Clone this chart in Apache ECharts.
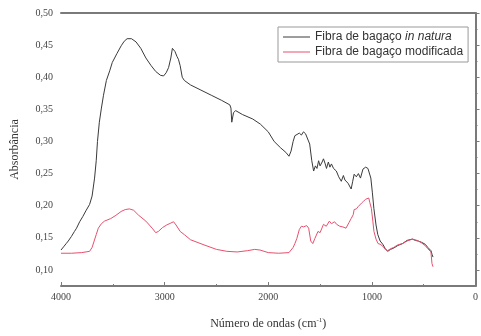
<!DOCTYPE html>
<html>
<head>
<meta charset="utf-8">
<script src="https://cdn.jsdelivr.net/npm/echarts@6/dist/echarts.min.js"></script>
<style>html,body{margin:0;padding:0;background:#fff}#c{width:481px;height:336px}</style>
</head>
<body>
<div id="c"></div>
<script>
// ---- data (wavenumber cm-1, absorbance) ----
const seriesNames = ['Fibra de bagaço in natura', 'Fibra de bagaço modificada'];
const xTickValues = [4000, 3000, 2000, 1000, 0];
const yTickValues = [0.10, 0.15, 0.20, 0.25, 0.30, 0.35, 0.40, 0.45, 0.50];

const naturaWn = [4000,3970,3950,3930,3915,3900,3886,3870,3850,3820,3790,3760,3724,3700,3676,3660,3648,3630,3610,3590,3562,3530,3505,3460,3419,3390,3362,3320,3276,3230,3181,3130,3086,3040,3010,2985,2962,2940,2925,2914,2900,2880,2867,2850,2830,2810,2750,2650,2550,2450,2371,2360,2352,2345,2335,2314,2250,2150,2076,2000,1943,1880,1830,1800,1780,1760,1743,1724,1700,1680,1660,1640,1629,1600,1580,1562,1545,1530,1514,1500,1480,1467,1450,1438,1420,1405,1390,1370,1343,1320,1295,1275,1260,1248,1230,1215,1200,1185,1171,1150,1130,1110,1086,1060,1038,1020,1010,995,981,960,943,920,895,870,848,820,790,750,705,660,610,580,552,520,486,460,430,419,410];
const naturaAbs = [0.131,0.137,0.141,0.145,0.142,0.152,0.155,0.160,0.165,0.175,0.183,0.192,0.202,0.215,0.243,0.270,0.300,0.330,0.352,0.372,0.395,0.410,0.423,0.437,0.449,0.456,0.460,0.460,0.455,0.445,0.430,0.418,0.409,0.403,0.402,0.407,0.415,0.430,0.445,0.447,0.440,0.432,0.428,0.418,0.400,0.395,0.388,0.380,0.372,0.364,0.357,0.352,0.330,0.327,0.345,0.348,0.342,0.335,0.327,0.315,0.300,0.290,0.283,0.277,0.285,0.300,0.309,0.312,0.313,0.310,0.315,0.312,0.312,0.296,0.270,0.254,0.262,0.258,0.270,0.262,0.268,0.273,0.265,0.258,0.268,0.260,0.265,0.258,0.254,0.245,0.238,0.247,0.240,0.243,0.235,0.232,0.226,0.238,0.249,0.245,0.250,0.243,0.257,0.260,0.258,0.255,0.243,0.220,0.196,0.170,0.155,0.145,0.140,0.133,0.129,0.132,0.134,0.138,0.141,0.146,0.148,0.146,0.145,0.143,0.140,0.135,0.130,0.124,0.120];

const modWn = [4000,3900,3800,3724,3700,3660,3640,3610,3580,3520,3470,3420,3380,3340,3300,3250,3181,3120,3086,3060,3020,2980,2940,2914,2890,2850,2810,2750,2620,2500,2400,2300,2200,2130,2080,2000,1900,1800,1760,1743,1724,1700,1680,1660,1629,1610,1590,1570,1550,1520,1500,1467,1440,1410,1390,1360,1340,1310,1280,1250,1220,1200,1180,1171,1150,1130,1100,1080,1060,1050,1030,1020,1005,990,980,960,940,920,895,870,848,820,790,750,705,660,610,580,552,520,486,460,430,420,410];
const modAbs = [0.126,0.126,0.127,0.129,0.135,0.155,0.165,0.172,0.176,0.180,0.185,0.191,0.194,0.195,0.193,0.185,0.176,0.165,0.158,0.160,0.166,0.170,0.173,0.175,0.170,0.160,0.155,0.147,0.139,0.132,0.129,0.128,0.130,0.132,0.131,0.127,0.126,0.127,0.135,0.141,0.149,0.163,0.168,0.167,0.169,0.165,0.145,0.141,0.149,0.160,0.158,0.171,0.168,0.176,0.172,0.175,0.171,0.168,0.167,0.165,0.174,0.180,0.186,0.194,0.195,0.199,0.204,0.207,0.210,0.212,0.212,0.205,0.196,0.175,0.160,0.148,0.141,0.140,0.137,0.132,0.130,0.133,0.135,0.139,0.141,0.145,0.148,0.147,0.145,0.142,0.138,0.133,0.128,0.110,0.105];

const zip = (a, b) => a.map((v, i) => [v, b[i]]);
const fmtComma = v => Number(v).toFixed(2).replace('.', ',');
const serif = '"Liberation Serif","DejaVu Serif",serif';
const sans = '"Liberation Sans",Arial,sans-serif';
const axisGray = '#7a7a7a';

const chart = echarts.init(document.getElementById('c'), null, {renderer: 'canvas'});
chart.setOption({
  animation: false,
  backgroundColor: '#fff',
  grid: {left: 61, right: 0, top: 13, bottom: 50, containLabel: false},
  legend: {
    left: 278, top: 27, orient: 'vertical',
    data: seriesNames,
    borderColor: '#999', borderWidth: 1,
    padding: [4, 5, 4, 5],
    itemWidth: 27, itemHeight: 1, itemGap: 3,
    icon: 'rect',
    textStyle: {
      fontFamily: sans, fontSize: 12, color: '#333',
      rich: {
        n: {fontFamily: sans, fontSize: 12, color: '#333'},
        i: {fontFamily: sans, fontSize: 12, color: '#333', fontStyle: 'italic'}
      }
    },
    formatter: name => name === seriesNames[0] ? '{n|Fibra de bagaço }{i|in natura}' : '{n|' + name + '}'
  },
  xAxis: [{
    type: 'value', min: 0, max: 4000, interval: 1000, inverse: true,
    name: '{a|Número de ondas (cm}{s|-1}{a|)}',
    nameLocation: 'middle', nameGap: 31,
    nameTextStyle: {rich: {
      a: {fontFamily: serif, fontSize: 12, color: '#333'},
      s: {fontFamily: serif, fontSize: 7, color: '#333', verticalAlign: 'bottom', padding: [0, 0, 7, 0]}
    }},
    axisLine: {show: true, lineStyle: {color: axisGray, width: 2}},
    axisTick: {show: true, inside: true, length: 4, lineStyle: {color: axisGray}},
    minorTick: {show: true, splitNumber: 2, length: 2, lineStyle: {color: axisGray}},
    axisLabel: {fontFamily: serif, fontSize: 10, color: '#444', margin: 6,
      customValues: xTickValues, formatter: v => String(v)},
    splitLine: {show: false}
  }, {
    type: 'value', min: 0, max: 4000, inverse: true, position: 'top',
    axisLine: {show: true, lineStyle: {color: axisGray, width: 2}},
    axisTick: {show: false}, axisLabel: {show: false}, splitLine: {show: false}
  }],
  yAxis: [{
    type: 'value', min: 0.075, max: 0.5,
    name: 'Absorbância', nameLocation: 'middle', nameGap: 40,
    nameTextStyle: {fontFamily: serif, fontSize: 12, color: '#333'},
    axisLine: {show: true, lineStyle: {color: axisGray, width: 2}},
    axisTick: {show: true, inside: true, length: 4, lineStyle: {color: axisGray}, customValues: yTickValues},
    axisLabel: {fontFamily: serif, fontSize: 10, color: '#444', margin: 8,
      customValues: yTickValues, formatter: v => fmtComma(v)},
    splitLine: {show: false}
  }, {
    type: 'value', min: 0.075, max: 0.5, position: 'left',
    axisLine: {show: false},
    axisTick: {show: true, inside: true, length: 2, lineStyle: {color: axisGray},
      customValues: [0.125, 0.175, 0.225, 0.275, 0.325, 0.375, 0.425, 0.475]},
    axisLabel: {show: false}, splitLine: {show: false}
  }],
  series: [{
    name: seriesNames[0], type: 'line', xAxisIndex: 0, yAxisIndex: 0,
    data: zip(naturaWn, naturaAbs), showSymbol: false, smooth: false,
    lineStyle: {color: '#3a3a3a', width: 1}, itemStyle: {color: '#3a3a3a'}
  }, {
    name: seriesNames[1], type: 'line', xAxisIndex: 0, yAxisIndex: 0,
    data: zip(modWn, modAbs), showSymbol: false, smooth: false,
    lineStyle: {color: '#e8506e', width: 1}, itemStyle: {color: '#e8506e'}
  }]
});
</script>
</body>
</html>
